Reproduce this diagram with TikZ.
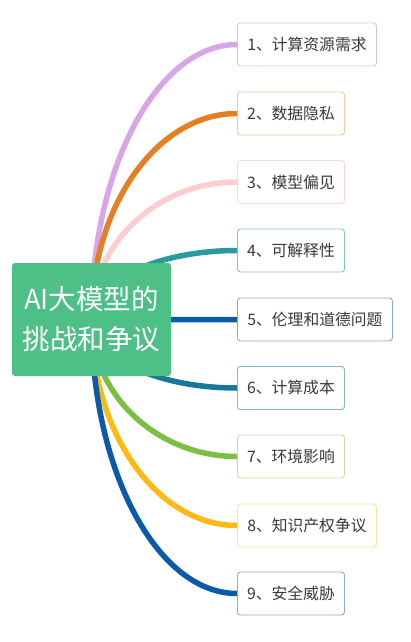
\documentclass[tikz,border=0pt]{standalone}
\usepackage{fontspec}
\newfontfamily\cjk{Noto Sans CJK SC}
\usetikzlibrary{calc,backgrounds}
\definecolor{rootgreen}{HTML}{4DBF87}
\definecolor{txt}{HTML}{3A3A3A}
\definecolor{c1}{HTML}{D6A6E8}\definecolor{b1}{HTML}{DCC0EA}
\definecolor{c2}{HTML}{E67E22}\definecolor{b2}{HTML}{F2C8A2}
\definecolor{c3}{HTML}{FDCDD0}\definecolor{b3}{HTML}{FBD6D8}
\definecolor{c4}{HTML}{2A9A9E}\definecolor{b4}{HTML}{85C2C6}
\definecolor{c5}{HTML}{0A5CA8}\definecolor{b5}{HTML}{82AAD4}
\definecolor{c6}{HTML}{17789A}\definecolor{b6}{HTML}{86B4C8}
\definecolor{c7}{HTML}{7DBE45}\definecolor{b7}{HTML}{C2DDAA}
\definecolor{c8}{HTML}{FDBA14}\definecolor{b8}{HTML}{FCE0A0}
\definecolor{c9}{HTML}{0B5AA8}\definecolor{b9}{HTML}{88AED6}
\tikzset{
  rootbox/.style={draw=none, fill=rootgreen, rounded corners=3pt, text=white,
    minimum width=159pt, minimum height=113pt, inner sep=0pt,
    font=\cjk\fontsize{27.5}{40}\selectfont, align=center},
  leafbox/.style={draw=#1, fill=white, line width=0.9pt, rounded corners=3pt,
    anchor=west, minimum height=43pt, inner sep=0pt, text=txt,
    font=\cjk\fontsize{15.8}{18}\selectfont},
  branch/.style={draw=#1, line width=5.5pt},
}
\begin{document}
\begin{tikzpicture}[x=1pt,y=-1pt]
\useasboundingbox (0,0) rectangle (410,642);
\node[rootbox] (root) at (91.5,319.5) {AI大模型的\\挑战和争议};
\node[leafbox=b1, minimum width=139pt] (n1) at (237,44.5) {1、计算资源需求};
\node[leafbox=b2, minimum width=107pt] (n2) at (237,113.5) {2、数据隐私};
\node[leafbox=b3, minimum width=107pt] (n3) at (237,182) {3、模型偏见};
\node[leafbox=b4, minimum width=107pt] (n4) at (237,250.5) {4、可解释性};
\node[leafbox=b5, minimum width=155pt] (n5) at (237,319.5) {5、伦理和道德问题};
\node[leafbox=b6, minimum width=107pt] (n6) at (237,388) {6、计算成本};
\node[leafbox=b7, minimum width=107pt] (n7) at (237,456.5) {7、环境影响};
\node[leafbox=b8, minimum width=139pt] (n8) at (237,525.5) {8、知识产权争议};
\node[leafbox=b9, minimum width=107pt] (n9) at (237,593.5) {9、安全威胁};
\begin{scope}[on background layer]
\foreach \i in {1,...,9}{
  \draw[branch=c\i] (root.center)
    .. controls ($(root.center)!0.55!(root.center |- n\i.west)$)
    and ($(n\i.west)!0.55!(root.center |- n\i.west)$) .. (n\i.west);
}
\end{scope}
\end{tikzpicture}
\end{document}
